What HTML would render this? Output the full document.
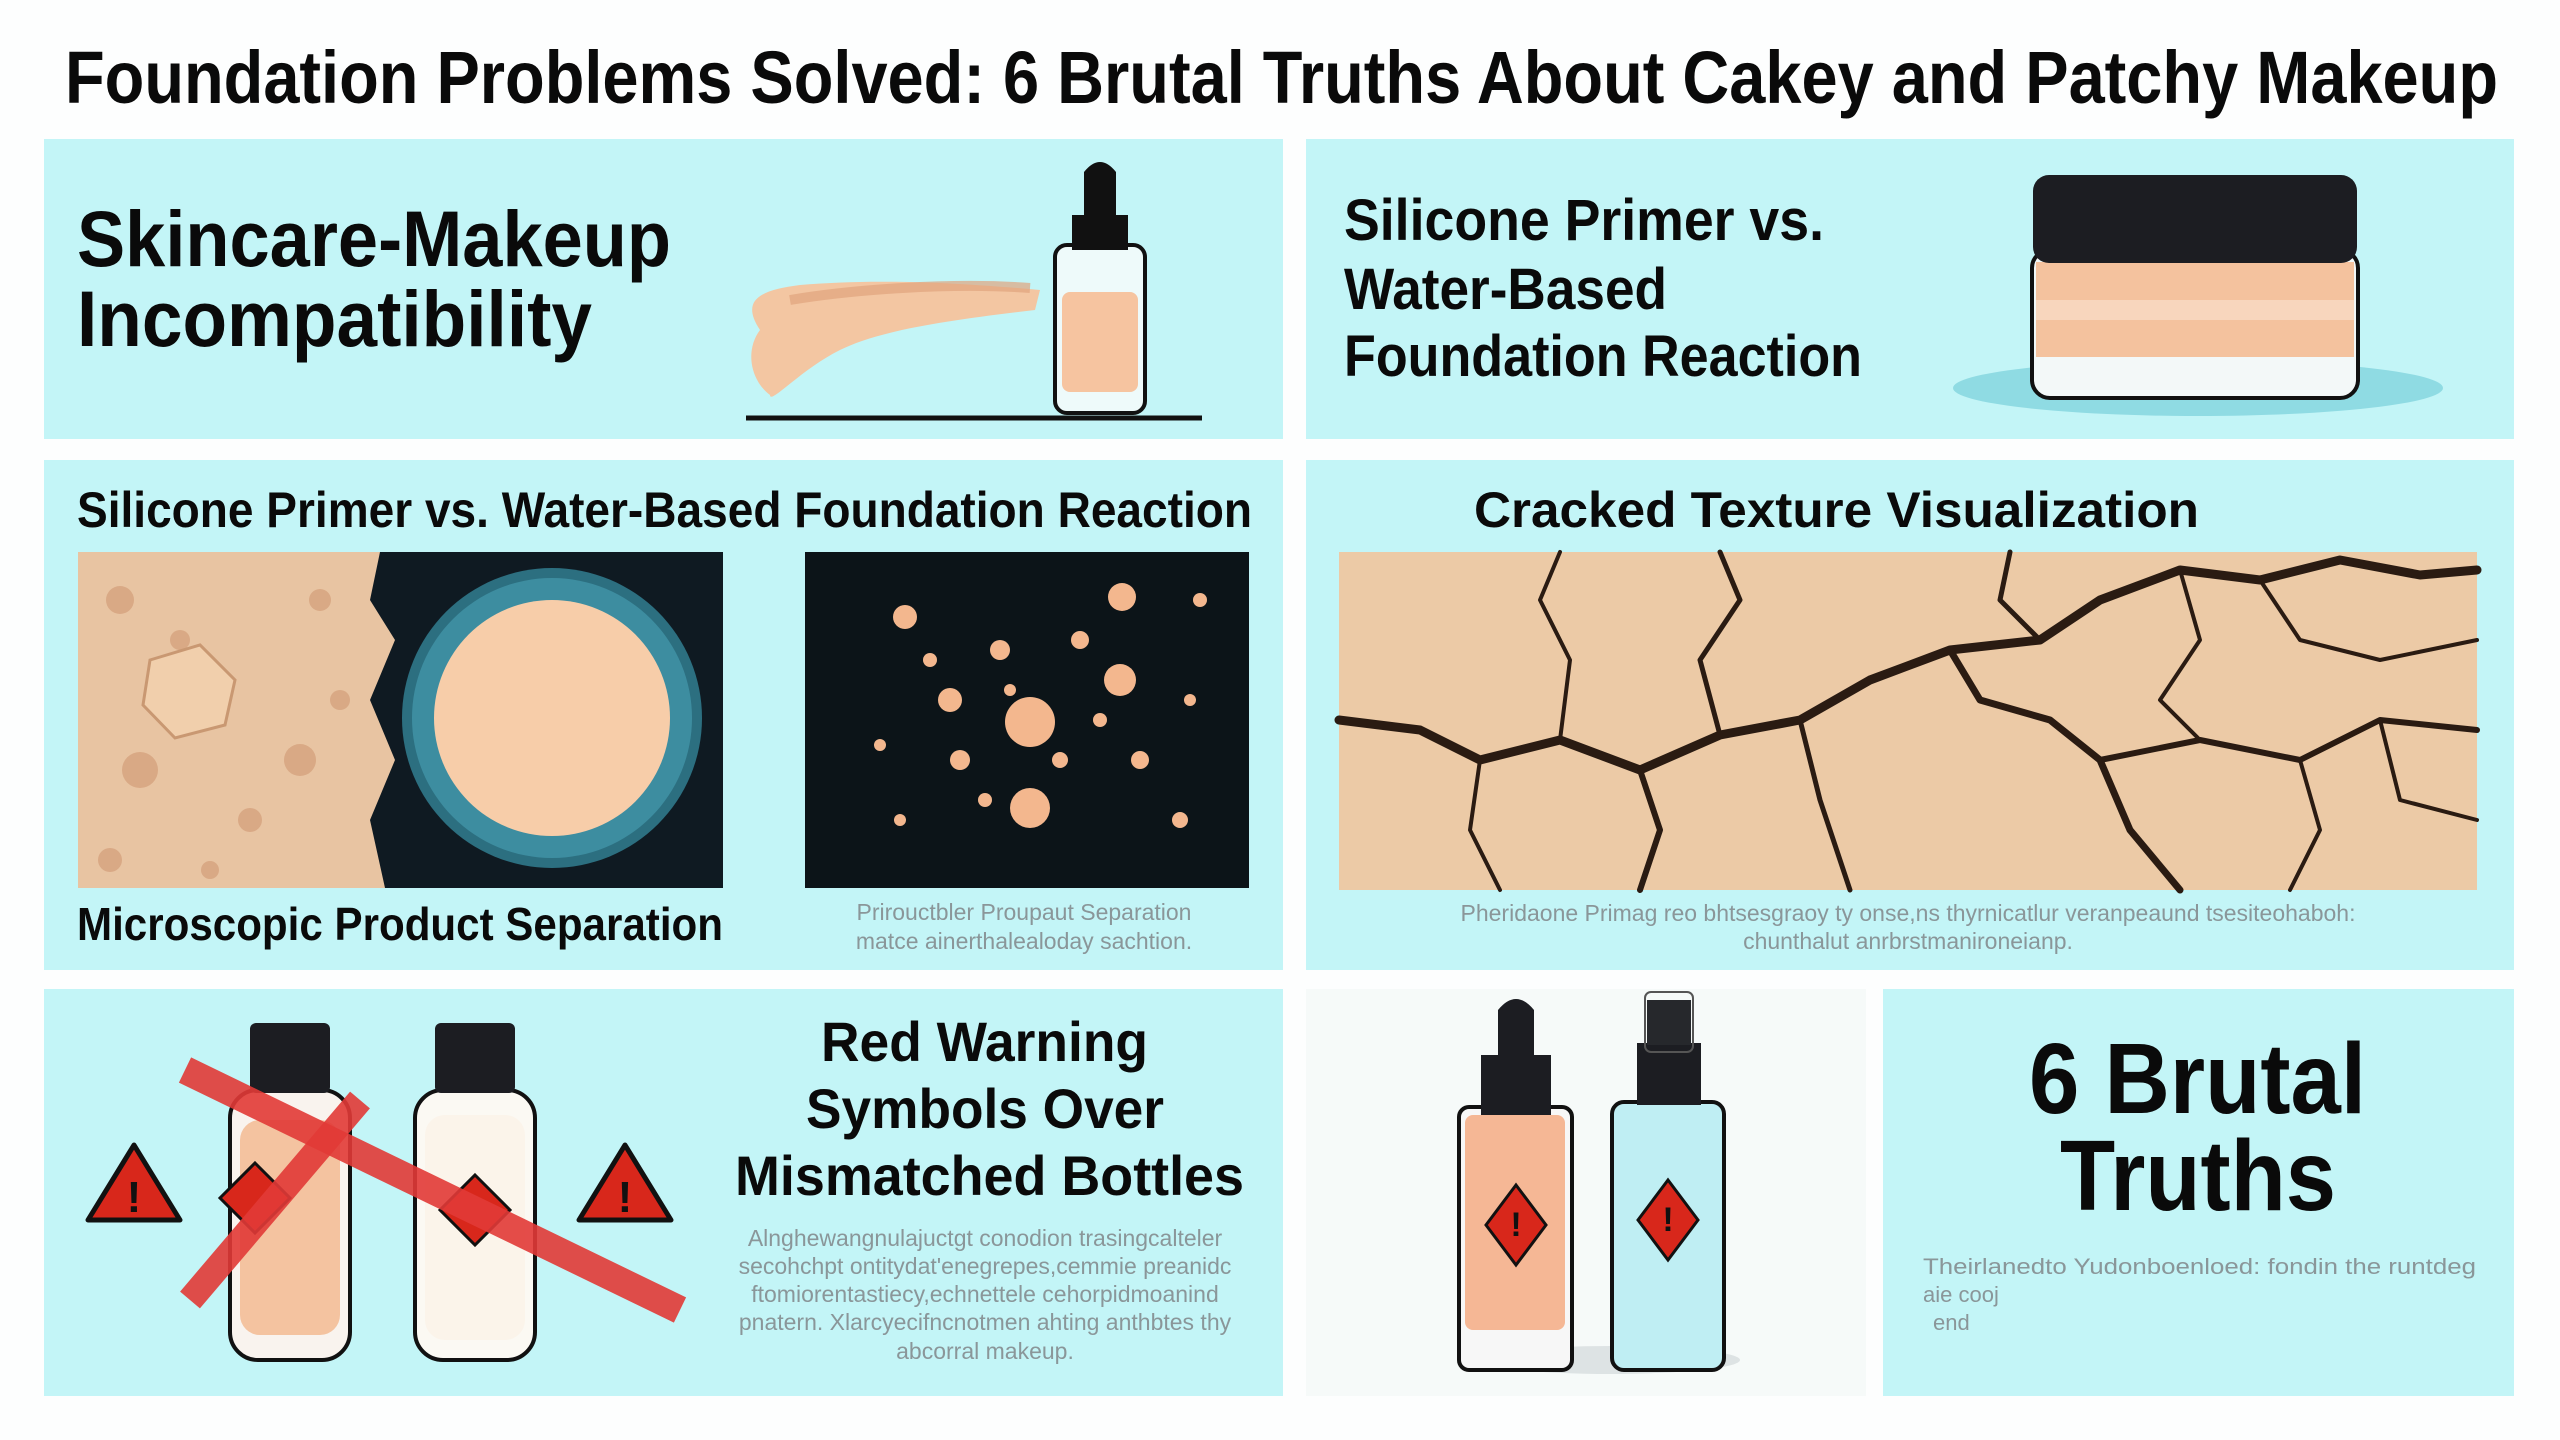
<!DOCTYPE html>
<html><head><meta charset="utf-8"><style>
html,body{margin:0;padding:0;background:#fdfefe;}
svg{display:block}
text{font-family:"Liberation Sans",sans-serif;}
</style></head><body>
<svg width="2560" height="1440" viewBox="0 0 2560 1440" xmlns="http://www.w3.org/2000/svg">
<rect width="2560" height="1440" fill="#fdfefe"/>
<!-- title -->
<text x="65" y="103" font-size="74" font-weight="bold" fill="#0a0a0a" textLength="2433" lengthAdjust="spacingAndGlyphs">Foundation Problems Solved: 6 Brutal Truths About Cakey and Patchy Makeup</text>

<!-- panels -->
<rect x="44" y="139" width="1239" height="300" fill="#c3f5f7"/>
<rect x="1306" y="139" width="1208" height="300" fill="#c3f5f7"/>
<rect x="44" y="460" width="1239" height="510" fill="#c3f5f7"/>
<rect x="1306" y="460" width="1208" height="510" fill="#c3f5f7"/>
<rect x="44" y="989" width="1239" height="407" fill="#c3f5f7"/>
<rect x="1306" y="989" width="560" height="407" fill="#f6faf9"/>
<rect x="1883" y="989" width="631" height="407" fill="#c3f5f7"/>

<!-- panel 1 -->
<text x="77" y="266" font-size="79" font-weight="bold" fill="#0a0a0a" textLength="594" lengthAdjust="spacingAndGlyphs">Skincare-Makeup</text>
<text x="77" y="346" font-size="79" font-weight="bold" fill="#0a0a0a" textLength="515" lengthAdjust="spacingAndGlyphs">Incompatibility</text>
<path d="M760 330 C740 300 760 290 800 285 C860 280 930 280 1040 290 L1035 310 C950 320 880 330 840 350 C800 370 770 405 770 395 C750 380 745 350 760 330Z" fill="#f3c6a2"/>
<path d="M790 300 C850 290 950 282 1030 288" stroke="#e0a47e" stroke-width="10" fill="none" opacity=".7"/>
<rect x="1055" y="245" width="90" height="168" rx="12" fill="#eefafa" stroke="#111" stroke-width="4"/>
<rect x="1062" y="292" width="76" height="100" rx="8" fill="#f6c4a0"/>
<rect x="1072" y="215" width="56" height="35" fill="#111"/>
<path d="M1084 215 L1084 172 Q1100 152 1116 172 L1116 215Z" fill="#111"/>
<line x1="746" y1="418" x2="1202" y2="418" stroke="#111" stroke-width="5"/>

<!-- panel 2 -->
<text x="1344" y="240" font-size="58" font-weight="bold" fill="#0a0a0a" textLength="480" lengthAdjust="spacingAndGlyphs">Silicone Primer vs.</text>
<text x="1344" y="309" font-size="58" font-weight="bold" fill="#0a0a0a" textLength="323" lengthAdjust="spacingAndGlyphs">Water-Based</text>
<text x="1344" y="376" font-size="58" font-weight="bold" fill="#0a0a0a" textLength="518" lengthAdjust="spacingAndGlyphs">Foundation Reaction</text>
<ellipse cx="2198" cy="388" rx="245" ry="28" fill="#8fdbe3"/>
<rect x="2032" y="250" width="326" height="148" rx="18" fill="#f3f8f8" stroke="#111" stroke-width="4"/>
<rect x="2036" y="262" width="318" height="95" fill="#f4c29e"/>
<rect x="2036" y="300" width="318" height="20" fill="#f8d6bd"/>
<rect x="2033" y="175" width="324" height="88" rx="16" fill="#1c1d22"/>

<!-- panel 3 -->
<text x="77" y="527" font-size="50" font-weight="bold" fill="#0a0a0a" textLength="1175" lengthAdjust="spacingAndGlyphs">Silicone Primer vs. Water-Based Foundation Reaction</text>
<rect x="78" y="552" width="645" height="336" fill="#0f1a22"/>
<path d="M78 552 L380 552 L370 600 L395 640 L370 700 L395 760 L370 820 L385 888 L78 888Z" fill="#e8c4a2"/>
<g fill="#d9a985">
<circle cx="120" cy="600" r="14"/><circle cx="180" cy="640" r="10"/><circle cx="140" cy="770" r="18"/><circle cx="250" cy="820" r="12"/><circle cx="320" cy="600" r="11"/><circle cx="300" cy="760" r="16"/><circle cx="110" cy="860" r="12"/><circle cx="210" cy="870" r="9"/><circle cx="340" cy="700" r="10"/>
</g>
<polygon points="150,660 200,645 235,680 225,725 175,738 143,705" fill="#f1cfac" stroke="#c99872" stroke-width="3"/>
<circle cx="552" cy="718" r="150" fill="#2c6f80"/>
<circle cx="552" cy="718" r="140" fill="#4aa2b5" opacity=".6"/>
<circle cx="552" cy="718" r="118" fill="#f7cda9"/>
<rect x="805" y="552" width="444" height="336" fill="#0c1418"/>
<g fill="#f3b78e">
<circle cx="1030" cy="722" r="25"/><circle cx="1030" cy="808" r="20"/><circle cx="1120" cy="680" r="16"/><circle cx="950" cy="700" r="12"/><circle cx="1000" cy="650" r="10"/><circle cx="1122" cy="597" r="14"/><circle cx="905" cy="617" r="12"/><circle cx="960" cy="760" r="10"/><circle cx="1080" cy="640" r="9"/><circle cx="1140" cy="760" r="9"/><circle cx="1060" cy="760" r="8"/><circle cx="930" cy="660" r="7"/><circle cx="985" cy="800" r="7"/><circle cx="1190" cy="700" r="6"/><circle cx="1180" cy="820" r="8"/><circle cx="880" cy="745" r="6"/><circle cx="1010" cy="690" r="6"/><circle cx="1100" cy="720" r="7"/><circle cx="900" cy="820" r="6"/><circle cx="1200" cy="600" r="7"/>
</g>
<text x="77" y="940" font-size="46" font-weight="bold" fill="#0a0a0a" textLength="646" lengthAdjust="spacingAndGlyphs">Microscopic Product Separation</text>
<text x="1024" y="920" font-size="23" fill="#8a9699" text-anchor="middle">Prirouctbler Proupaut Separation</text>
<text x="1024" y="949" font-size="23" fill="#8a9699" text-anchor="middle">matce ainerthalealoday sachtion.</text>

<!-- panel 4 -->
<text x="1474" y="527" font-size="50" font-weight="bold" fill="#0a0a0a" textLength="725" lengthAdjust="spacingAndGlyphs">Cracked Texture Visualization</text>
<rect x="1339" y="552" width="1138" height="338" fill="#eccaa6"/>
<g stroke="#2a1b12" fill="none" stroke-linecap="round" stroke-linejoin="round">
<path d="M1339 720 L1420 730 L1480 760 L1560 740 L1640 770 L1720 735 L1800 720 L1870 680 L1950 650 L2040 640 L2100 600 L2180 570 L2260 580 L2340 560 L2420 575 L2477 570" stroke-width="9"/>
<path d="M1640 770 L1660 830 L1640 890" stroke-width="6"/>
<path d="M1800 720 L1820 800 L1850 890" stroke-width="5"/>
<path d="M1950 650 L1980 700 L2050 720 L2100 760 L2130 830 L2180 890" stroke-width="7"/>
<path d="M2040 640 L2000 600 L2010 552" stroke-width="5"/>
<path d="M1720 735 L1700 660 L1740 600 L1720 552" stroke-width="5"/>
<path d="M1560 740 L1570 660 L1540 600 L1560 552" stroke-width="4"/>
<path d="M2100 760 L2200 740 L2300 760 L2380 720 L2477 730" stroke-width="6"/>
<path d="M2300 760 L2320 830 L2290 890" stroke-width="4"/>
<path d="M2260 580 L2300 640 L2380 660 L2477 640" stroke-width="4"/>
<path d="M2380 720 L2400 800 L2477 820" stroke-width="4"/>
<path d="M1480 760 L1470 830 L1500 890" stroke-width="4"/>
<path d="M2180 570 L2200 640 L2160 700 L2200 740" stroke-width="4"/>
</g>
<text x="1908" y="921" font-size="23" fill="#8a9699" text-anchor="middle">Pheridaone Primag reo bhtsesgraoy ty onse,ns thyrnicatlur veranpeaund tsesiteohaboh:</text>
<text x="1908" y="949" font-size="23" fill="#8a9699" text-anchor="middle">chunthalut anrbrstmanironeianp.</text>

<!-- panel 5 -->
<g>
<rect x="230" y="1090" width="120" height="270" rx="28" fill="#f9f3ee" stroke="#111" stroke-width="4"/>
<rect x="240" y="1120" width="100" height="215" rx="20" fill="#f4c3a0"/>
<rect x="250" y="1023" width="80" height="70" rx="6" fill="#1c1d22"/>
<rect x="415" y="1090" width="120" height="270" rx="28" fill="#fbf9f3" stroke="#111" stroke-width="4"/>
<rect x="425" y="1115" width="100" height="225" rx="20" fill="#fbf4ea"/>
<rect x="435" y="1023" width="80" height="70" rx="6" fill="#1c1d22"/>
<path d="M255 1163 L290 1198 L255 1233 L220 1198Z" fill="#d8271b" stroke="#111" stroke-width="3"/>
<path d="M475 1175 L510 1210 L475 1245 L440 1210Z" fill="#d8271b" stroke="#111" stroke-width="3"/>
<line x1="185" y1="1070" x2="680" y2="1310" stroke="#e23a37" stroke-width="28" opacity=".9"/>
<line x1="190" y1="1300" x2="360" y2="1100" stroke="#e23a37" stroke-width="26" opacity=".9"/>
<path d="M134 1145 L180 1220 L88 1220Z" fill="#d8271b" stroke="#111" stroke-width="5" stroke-linejoin="round"/>
<path d="M625 1145 L671 1220 L579 1220Z" fill="#d8271b" stroke="#111" stroke-width="5" stroke-linejoin="round"/>
<text x="134" y="1212" font-size="44" font-weight="bold" text-anchor="middle" fill="#111">!</text>
<text x="625" y="1212" font-size="44" font-weight="bold" text-anchor="middle" fill="#111">!</text>
</g>
<text x="821" y="1061" font-size="56" font-weight="bold" fill="#0a0a0a" textLength="327" lengthAdjust="spacingAndGlyphs">Red Warning</text>
<text x="806" y="1128" font-size="56" font-weight="bold" fill="#0a0a0a" textLength="358" lengthAdjust="spacingAndGlyphs">Symbols Over</text>
<text x="735" y="1195" font-size="56" font-weight="bold" fill="#0a0a0a" textLength="509" lengthAdjust="spacingAndGlyphs">Mismatched Bottles</text>
<g font-size="23" fill="#8a9699" text-anchor="middle">
<text x="985" y="1246">Alnghewangnulajuctgt conodion trasingcalteler</text>
<text x="985" y="1274">secohchpt ontitydat'enegrepes,cemmie preanidc</text>
<text x="985" y="1302">ftomiorentastiecy,echnettele cehorpidmoanind</text>
<text x="985" y="1330">pnatern. Xlarcyecifncnotmen ahting anthbtes thy</text>
<text x="985" y="1359">abcorral makeup.</text>
</g>

<!-- panel 6 left bottles -->
<ellipse cx="1610" cy="1360" rx="130" ry="14" fill="#dde3e4"/>
<rect x="1459" y="1107" width="113" height="263" rx="10" fill="#f7f7f7" stroke="#111" stroke-width="4"/>
<rect x="1465" y="1115" width="100" height="215" rx="8" fill="#f5b795"/>
<rect x="1481" y="1055" width="70" height="60" fill="#1c1d22"/>
<path d="M1498 1055 L1498 1010 Q1516 988 1534 1010 L1534 1055Z" fill="#1c1d22"/>
<rect x="1612" y="1102" width="112" height="268" rx="12" fill="#bfeef3" stroke="#111" stroke-width="4"/>
<rect x="1637" y="1043" width="64" height="62" fill="#1c1d22"/>
<rect x="1647" y="1000" width="44" height="45" fill="#26282c"/>
<rect x="1645" y="992" width="48" height="60" rx="6" fill="none" stroke="#555" stroke-width="2"/>
<path d="M1516 1185 L1546 1225 L1516 1265 L1486 1225Z" fill="#d8271b" stroke="#111" stroke-width="3"/>
<path d="M1668 1180 L1698 1220 L1668 1260 L1638 1220Z" fill="#d8271b" stroke="#111" stroke-width="3"/>
<text x="1516" y="1236" font-size="34" font-weight="bold" text-anchor="middle" fill="#111">!</text>
<text x="1668" y="1231" font-size="34" font-weight="bold" text-anchor="middle" fill="#111">!</text>

<!-- panel 6 right -->
<text x="2029" y="1113" font-size="100" font-weight="bold" fill="#0a0a0a" textLength="337" lengthAdjust="spacingAndGlyphs">6 Brutal</text>
<text x="2060" y="1210" font-size="100" font-weight="bold" fill="#0a0a0a" textLength="276" lengthAdjust="spacingAndGlyphs">Truths</text>
<text x="1923" y="1274" font-size="22" fill="#8a9699" textLength="553" lengthAdjust="spacingAndGlyphs">Theirlanedto Yudonboenloed: fondin the runtdeg</text>
<text x="1923" y="1302" font-size="22" fill="#8a9699">aie cooj</text>
<text x="1933" y="1330" font-size="22" fill="#8a9699">end</text>
</svg>
</body></html>
